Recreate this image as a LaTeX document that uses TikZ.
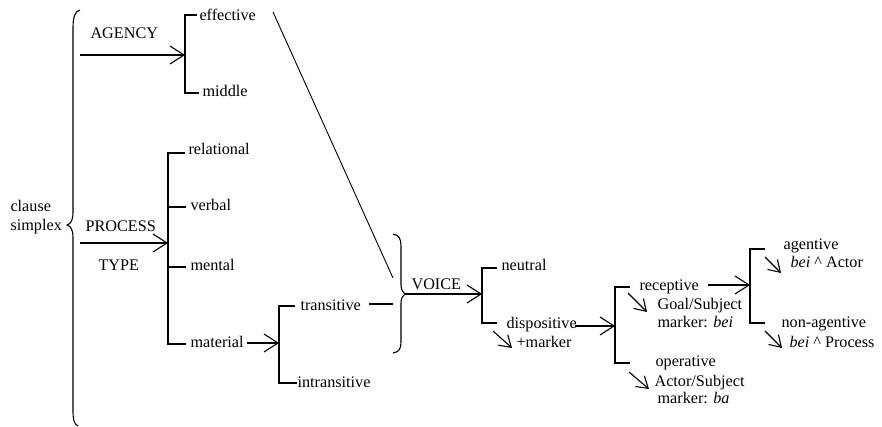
\documentclass[tikz,border=0pt]{standalone}
\usepackage{fontspec}
\setmainfont{Liberation Serif}
\usetikzlibrary{arrows.meta}
\begin{document}
\begin{tikzpicture}[x=1pt,y=-1pt,line width=1.1pt,
  txt/.style={inner sep=0pt,anchor=base west,font=\fontsize{16.2}{18}\selectfont},
  arr/.style={-{Straight Barb[length=14pt,width=18pt]}},
  sarr/.style={-{Straight Barb[length=11pt,width=14pt]}}]
\useasboundingbox (0,0) rectangle (882,427);
% texts
\node[txt] (clause) at (10,212) {clause};
\node[txt] (simplex) at (10,231) {simplex};
\node[txt] (agency) at (90,39) {AGENCY};
\node[txt] (process) at (85,232) {PROCESS};
\node[txt] (type) at (98,270) {TYPE};
\node[txt] (eff) at (199,21) {effective};
\node[txt] (mid) at (202,97) {middle};
\node[txt] (rel) at (188,155) {relational};
\node[txt] (verb) at (190,211) {verbal};
\node[txt] (ment) at (190,270) {mental};
\node[txt] (mat) at (190,347) {material};
\node[txt] (trans) at (300,310) {transitive};
\node[txt] (intr) at (297,387) {intransitive};
\node[txt] (voice) at (411,289) {VOICE};
\node[txt] (neut) at (501,270) {neutral};
\node[txt] (disp) at (506,328) {dispositive};
\node[txt] (mark) at (516,347) {+marker};
\node[txt] (rec) at (639,290) {receptive};
\node[txt] (goal) at (657,309) {Goal/Subject};
\node[txt] (goalm) at (657,327) {marker: \textit{bei}};
\node[txt] (oper) at (655,366) {operative};
\node[txt] (act) at (654,386) {Actor/Subject};
\node[txt] (actm) at (657,403) {marker: \textit{ba}};
\node[txt] (agt) at (783,250) {agentive};
\node[txt] (agtb) at (790,268) {\textit{bei} \textasciicircum{} Actor};
\node[txt] (nag) at (781,327) {non-agentive};
\node[txt] (nagb) at (789,347) {\textit{bei} \textasciicircum{} Process};
% coordinates
\coordinate (agS) at (80,55);
\coordinate (prS) at (80,243);
\coordinate (b1t) at (185,15);  \coordinate (b1b) at (185,93);
\coordinate (b2t) at (168,153); \coordinate (b2v) at (168,207);
\coordinate (b2m) at (168,267); \coordinate (b2b) at (168,344);
\coordinate (b3t) at (279,306); \coordinate (b3b) at (279,383);
\coordinate (b4t) at (482,268); \coordinate (b4b) at (482,323);
\coordinate (b5t) at (615,287); \coordinate (b5b) at (615,363);
\coordinate (b6t) at (750,249); \coordinate (b6b) at (750,323);
\coordinate (vtip) at (406,294);
\coordinate (diagS) at (273,12); \coordinate (diagE) at (393,278);
\coordinate (trS) at (369,304); \coordinate (trE) at (393,304);
\coordinate (matS) at (247,343);
\coordinate (dispS) at (575,326);
\coordinate (recS) at (708,285);
% left brace
\draw (80,10) .. controls (75,11) and (73,17) .. (73,28) -- (73,212)
  .. controls (73,220) and (71,224) .. (67,225)
  .. controls (71,226) and (73,230) .. (73,238) -- (73,410)
  .. controls (73,420) and (74,424) .. (78,426);
% VOICE brace
\draw (393,234) .. controls (399,235) and (401,239) .. (401,246) -- (401,285)
  .. controls (401,290) and (403,293) .. (vtip)
  .. controls (403,295) and (401,298) .. (401,303) -- (401,342)
  .. controls (401,349) and (399,352) .. (393,353);
% brackets
\draw (197,15) -- (b1t) -- (b1b) -- (199,93);
\draw (185,153) -- (b2t) -- (b2b) -- (186,344);
\draw (b2v) -- (186,207);
\draw (b2m) -- (186,267);
\draw (295,306) -- (b3t) -- (b3b) -- (297,383);
\draw (497,268) -- (b4t) -- (b4b) -- (497,323);
\draw (630,287) -- (b5t) -- (b5b) -- (630,363);
\draw (765,249) -- (b6t) -- (b6b) -- (765,323);
% main arrows
\draw[arr] (agS) -- (agS -| b1t);
\draw[arr] (prS) -- (prS -| b2t);
\draw[arr] (matS) -- (matS -| b3t);
\draw[arr] (vtip) -- (vtip -| b4t);
\draw[arr] (dispS) -- (dispS -| b5t);
\draw[arr] (recS) -- (recS -| b6t);
% other lines
\draw[line width=0.9pt] (diagS) -- (diagE);
\draw (trS) -- (trE);
% small arrows
\draw[sarr] (493,331) -- (512,348);
\draw[sarr] (628,293) -- (647,312);
\draw[sarr] (629,372) -- (649,389);
\draw[sarr] (765,257) -- (781,273);
\draw[sarr] (765,331) -- (782,348);
\end{tikzpicture}
\end{document}
